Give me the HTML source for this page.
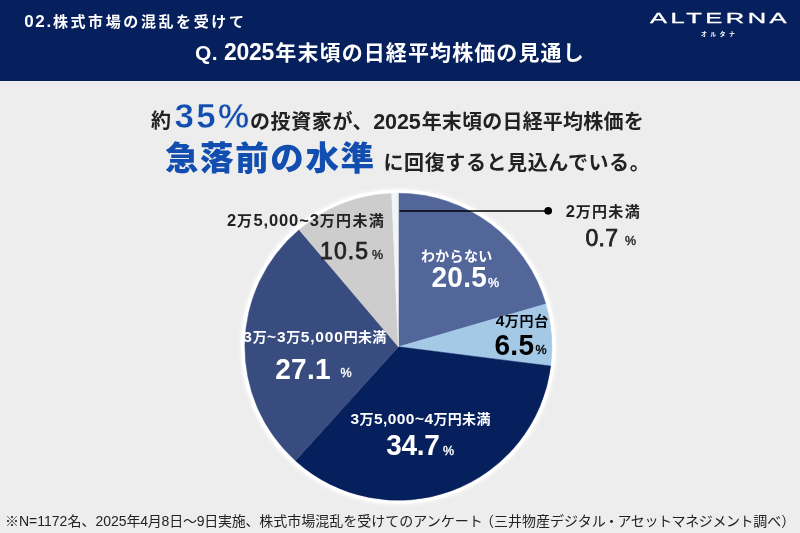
<!DOCTYPE html>
<html lang="ja">
<head>
<meta charset="utf-8">
<title>Q. 2025年末頃の日経平均株価の見通し</title>
<style>
html,body{margin:0;padding:0;}
body{width:800px;height:533px;overflow:hidden;background:#ededed;position:relative;
  font-family:"Liberation Sans","Noto Sans CJK JP",sans-serif;color:#222;}
.abs{position:absolute;white-space:nowrap;line-height:1;}
#header{position:absolute;left:0;top:0;width:800px;height:80.6px;background:#061f5d;}
#sec{left:24.2px;top:13.2px;font-size:15px;font-weight:700;color:#fff;letter-spacing:2.6px;}
#sec span{letter-spacing:1.7px;font-size:17px;}
#title{left:195px;top:41.2px;font-size:21px;font-weight:700;color:#fff;letter-spacing:1.1px;}
#title span{letter-spacing:0.35px;}
#title span.d{font-size:23px;letter-spacing:-0.3px;margin-right:1.3px;}
#logo{left:650px;top:9.6px;font-size:15px;color:#fff;font-weight:400;letter-spacing:2.05px;transform-origin:0 0;transform:scaleX(1.7);-webkit-text-stroke:0.3px #fff;}
#logosub{left:701px;top:30.8px;font-size:6px;color:#fff;font-weight:700;letter-spacing:3.3px;}
.l1{font-size:20px;font-weight:700;letter-spacing:0.3px;}
.l1 span{letter-spacing:1px;}
.l1 span.d{font-size:21.5px;letter-spacing:-0.1px;margin-right:1px;}
.big{color:#114eb0;font-weight:700;}
.lab{font-size:14px;font-weight:700;letter-spacing:0.3px;}
.lab span{letter-spacing:0.3px;font-size:15.5px;}
.lab span.s5{letter-spacing:0.85px;}
.lab span.s4{letter-spacing:0.45px;}
.lab.o{font-size:15px;letter-spacing:1.3px;color:#222;}
.lab.o span{letter-spacing:0.9px;font-size:16.5px;}
.w{color:#fff;}
.k{color:#000;}
.num{transform-origin:0 100%;}
.num.b{font-weight:700;transform:scaleY(1.08);}
.num.m{font-weight:400;-webkit-text-stroke:0.75px #222;}
.pct{font-weight:400;-webkit-text-stroke:0.4px currentColor;}
#foot{left:5px;top:513.5px;font-size:14px;font-weight:400;color:#222;}
</style>
</head>
<body>
<div id="header"></div>
<div class="abs" id="sec"><span>02.</span>株式市場の混乱を受けて</div>
<div class="abs" id="title"><span>Q. </span><span class="d">2025</span>年末頃の日経平均株価の見通し</div>
<div class="abs" id="logo">ALTERNA</div>
<div class="abs" id="logosub">オルタナ</div>

<div class="abs l1" id="t1a" style="left:151px;top:111.1px;">約</div>
<div class="abs big" id="t1b" style="left:174.6px;top:98.4px;font-size:35px;letter-spacing:2.2px;-webkit-text-stroke:0.5px #ededed;">35%</div>
<div class="abs l1" id="t1c" style="left:250px;top:111.7px;"><span style="letter-spacing:0.6px">の投資家が、</span><span class="d">2025</span><span style="letter-spacing:0.2px">年末頃の日経平均株価を</span></div>
<div class="abs big" id="t2a" style="left:165px;top:141.5px;font-size:33.5px;letter-spacing:1.6px;font-weight:900;">急落前の水準</div>
<div class="abs l1" id="t2b" style="left:383.5px;top:152.5px;letter-spacing:0.6px;">に回復すると見込んでいる。</div>

<svg class="abs" id="pie" style="left:0;top:0;" width="800" height="533" viewBox="0 0 800 533">
  <circle cx="398.4" cy="346.8" r="159" fill="#ffffff" opacity="0.5" filter="url(#bl)"/>
  <circle cx="398.4" cy="346.8" r="157.3" fill="#ffffff"/>
  <defs><filter id="bl" x="-10%" y="-10%" width="120%" height="120%"><feGaussianBlur stdDeviation="1.5"/></filter></defs>
  <g id="slices">
    <path d="M398.4 346.8L398.40 193.30A153.5 153.5 0 0 1 545.81 303.97Z" fill="#53669a" stroke="#53669a" stroke-width="0.5" stroke-linejoin="round"/>
    <path d="M398.4 346.8L545.81 303.97A153.5 153.5 0 0 1 550.69 366.04Z" fill="#a3c9e7" stroke="#a3c9e7" stroke-width="0.5" stroke-linejoin="round"/>
    <path d="M398.4 346.8L550.69 366.04A153.5 153.5 0 0 1 295.45 460.66Z" fill="#061f5d" stroke="#061f5d" stroke-width="0.5" stroke-linejoin="round"/>
    <path d="M398.4 346.8L295.45 460.66A153.5 153.5 0 0 1 299.08 229.77Z" fill="#394c80" stroke="#394c80" stroke-width="0.5" stroke-linejoin="round"/>
    <path d="M398.4 346.8L299.08 229.77A153.5 153.5 0 0 1 391.65 193.45Z" fill="#cdcdcd" stroke="#cdcdcd" stroke-width="0.5" stroke-linejoin="round"/>
    <path d="M398.4 346.8L391.65 193.45A153.5 153.5 0 0 1 398.40 193.30Z" fill="#f3f4f9" stroke="#f3f4f9" stroke-width="0.5" stroke-linejoin="round"/>
  </g>
  <line x1="399.5" y1="211" x2="548" y2="211" stroke="#000" stroke-width="1.7"/>
  <circle cx="548.2" cy="210.8" r="3.85" fill="#000"/>
</svg>

<div class="abs lab o" id="la1" style="left:565.7px;top:203.1px;"><span>2</span>万円未満</div>
<div class="abs num m" id="n1" style="left:585.5px;top:226.5px;font-size:23px;letter-spacing:0.3px;">0.7</div>
<div class="abs pct" id="p1" style="left:625px;top:235px;font-size:12.5px;">%</div>

<div class="abs lab w" id="la2" style="left:421px;top:248.5px;">わからない</div>
<div class="abs num b w" id="n2" style="left:431.5px;top:264.2px;font-size:28px;letter-spacing:0.3px;">20.5</div>
<div class="abs pct w" id="p2" style="left:488px;top:277px;font-size:12.5px;">%</div>

<div class="abs lab k" id="la3" style="letter-spacing:0.8px;transform:scaleY(0.94);transform-origin:0 0;left:495.8px;top:314.1px;"><span>4</span>万円台</div>
<div class="abs num b k" id="n3" style="left:494.5px;top:331.7px;font-size:28px;letter-spacing:0.3px;">6.5</div>
<div class="abs pct k" id="p3" style="left:535.5px;top:344px;font-size:12.5px;">%</div>

<div class="abs lab w" id="la4" style="left:350.5px;top:410.8px;"><span class="s4">3</span>万<span class="s4">5,000~4</span>万円未満</div>
<div class="abs num b w" id="n4" style="left:386.2px;top:431.5px;font-size:28px;letter-spacing:-0.3px;">34.7</div>
<div class="abs pct w" id="p4" style="left:443px;top:445px;font-size:12.5px;">%</div>

<div class="abs lab w" id="la5" style="left:243.2px;top:328.7px;"><span class="s5">3</span>万<span class="s5">~3</span>万<span class="s5">5,000</span>円未満</div>
<div class="abs num b w" id="n5" style="left:275.2px;top:355.7px;font-size:28px;letter-spacing:0.3px;">27.1</div>
<div class="abs pct w" id="p5" style="left:340.5px;top:367px;font-size:12.5px;">%</div>

<div class="abs lab o" id="la6" style="left:227px;top:212px;"><span>2</span>万<span>5,000~3</span>万円未満</div>
<div class="abs num m" id="n6" style="left:320px;top:240px;font-size:23px;letter-spacing:1.1px;">10.5</div>
<div class="abs pct" id="p6" style="left:372px;top:248.5px;font-size:12.5px;">%</div>

<div class="abs" id="foot">※N=1172名、2025<span style="letter-spacing:-0.24px">年4月8日〜9日実施、</span>株式市場混乱を受けてのアンケート<span style="margin-left:-2.8px">（</span>三井物産デジタル<span style="margin:0 -1.1px">・</span><span style="letter-spacing:-0.4px">アセットマネジメント</span>調べ）</div>
</body>
</html>
